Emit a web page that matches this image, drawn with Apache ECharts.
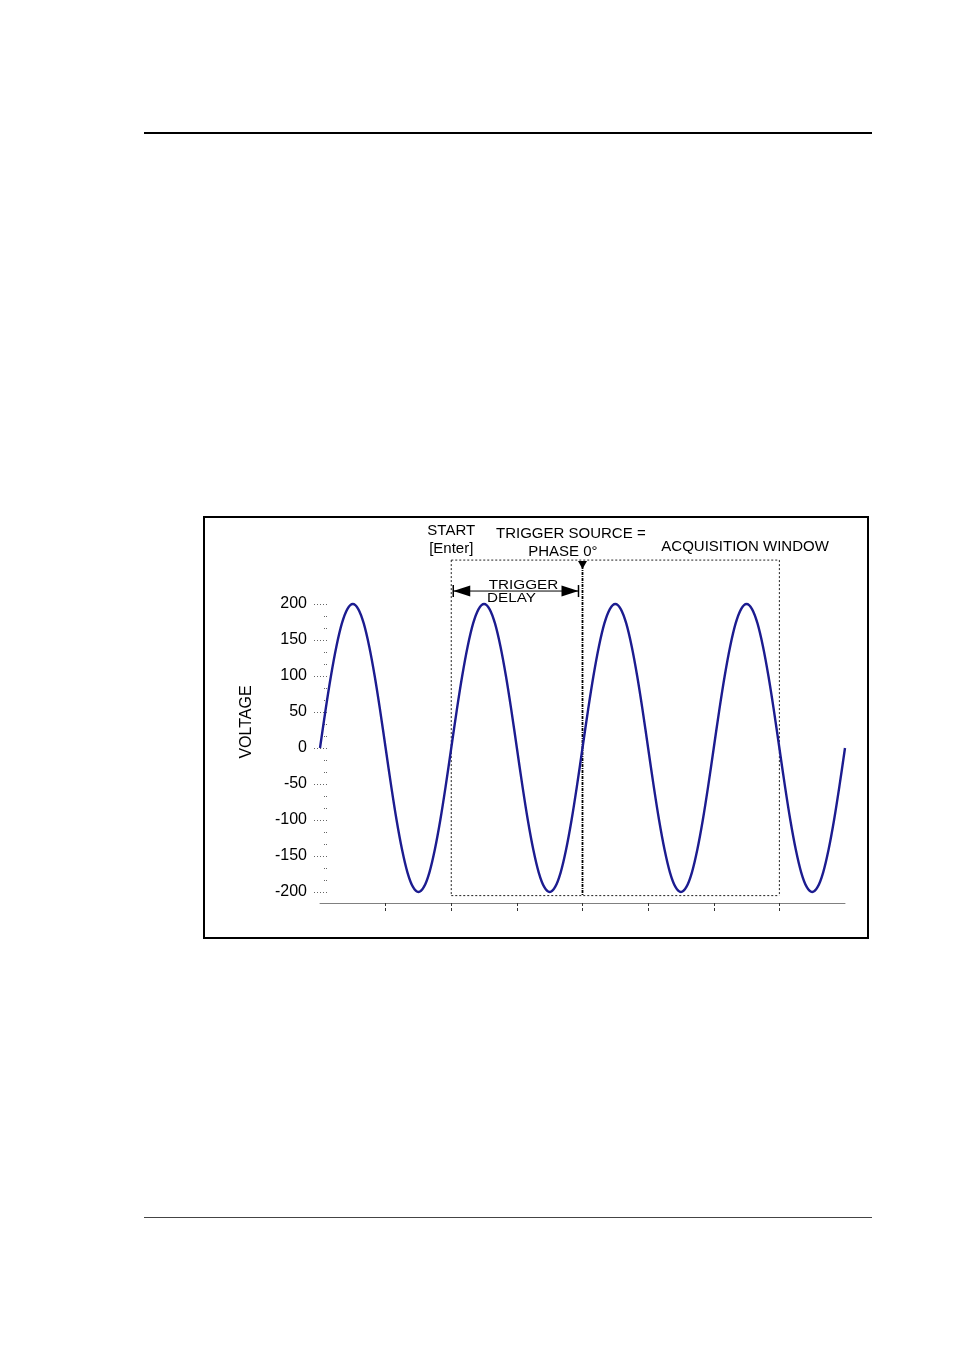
<!DOCTYPE html>
<html>
<head>
<meta charset="utf-8">
<script src="https://cdn.jsdelivr.net/npm/echarts@6/dist/echarts.min.js"></script>
<style>
html,body{margin:0;padding:0;background:#fff;}
#c{width:954px;height:1350px;}
</style>
</head>
<body>
<div id="c"></div>
<script>
// ---- data ----
const stepDeg = 15;
const voltage = [
  0,52,100,141,173,193,200,193,173,141,100,52,0,-52,-100,-141,-173,-193,-200,-193,-173,-141,-100,-52,
  0,52,100,141,173,193,200,193,173,141,100,52,0,-52,-100,-141,-173,-193,-200,-193,-173,-141,-100,-52,
  0,52,100,141,173,193,200,193,173,141,100,52,0,-52,-100,-141,-173,-193,-200,-193,-173,-141,-100,-52,
  0,52,100,141,173,193,200,193,173,141,100,52,0,-52,-100,-141,-173,-193,-200,-193,-173,-141,-100,-52,
  0
];
const yTicks = [-200,-150,-100,-50,0,50,100,150,200];
const xTicks = [180,360,540,720,900,1080,1260];
const startDeg = 360;     // START [Enter]
const triggerDeg = 720;   // trigger source phase 0°
const endDeg = 1260;      // end of acquisition window
const boxTop = 261, boxBottom = -205;
const yAxisName = 'VOLTAGE';

const points = voltage.map((v, i) => [i * stepDeg, v]);
const FONT = '"Liberation Sans", Arial, sans-serif';

const chart = echarts.init(document.getElementById('c'), null, {renderer: 'canvas'});
chart.setOption({
  animation: false,
  backgroundColor: '#fff',
  grid: {left: 320, right: 109, top: 604, bottom: 458, containLabel: false},
  xAxis: {
    type: 'value', min: 0, max: 1440, interval: 180, offset: 11,
    axisLine: {show: true, onZero: false, lineStyle: {color: '#808080', width: 1}},
    axisTick: {show: true, customValues: xTicks, length: 9, inside: false,
      lineStyle: {color: '#333', type: [3, 2], width: 1}},
    axisLabel: {show: false},
    splitLine: {show: false}
  },
  yAxis: {
    type: 'value', min: -200, max: 200, interval: 50, offset: -7,
    axisLine: {show: false},
    axisTick: {show: true, length: 13, lineStyle: {color: '#666', type: [1, 2], width: 1}},
    minorTick: {show: true, splitNumber: 3, length: 4, lineStyle: {color: '#666', type: [1, 1]}},
    axisLabel: {show: true, customValues: yTicks, margin: 20, fontFamily: FONT, fontSize: 16, color: '#000',
      padding: [3, 0, 0, 0]},
    splitLine: {show: false}
  },
  series: [{
    type: 'line', data: points, smooth: 0.35, showSymbol: false,
    lineStyle: {color: '#1c1c90', width: 2.4}, clip: false
  }]
});

function P(x, y) { return chart.convertToPixel({xAxisIndex: 0, yAxisIndex: 0}, [x, y]); }
const [xs, yTop] = P(startDeg, boxTop);
const [xe, yBot] = P(endDeg, boxBottom);
const [xt] = P(triggerDeg, 0);
const yArrow = P(0, 218)[1];
const dotted = {stroke: '#222', lineWidth: 1, lineDash: [2, 2]};
function txt(x, y, s, size, align, sx) {
  return {type: 'text', x: x, y: y, scaleX: sx || 1, style: {text: s, font: (size || 15) + 'px ' + FONT,
    fill: '#000', textAlign: align || 'center', textVerticalAlign: 'middle'}, z: 10};
}
const g = [
  // page rules
  {type: 'line', shape: {x1: 144, y1: 133, x2: 872, y2: 133}, style: {stroke: '#000', lineWidth: 2}},
  {type: 'line', shape: {x1: 144, y1: 1217.5, x2: 872, y2: 1217.5}, style: {stroke: '#444', lineWidth: 1}},
  // frame
  {type: 'rect', shape: {x: 204, y: 517, width: 664, height: 421}, style: {fill: 'none', stroke: '#000', lineWidth: 2}},
  // acquisition window dotted box
  {type: 'line', shape: {x1: xs, y1: yTop, x2: xe, y2: yTop}, style: dotted},
  {type: 'line', shape: {x1: xs, y1: yTop, x2: xs, y2: yBot}, style: dotted},
  {type: 'line', shape: {x1: xe, y1: yTop, x2: xe, y2: yBot}, style: dotted},
  {type: 'line', shape: {x1: xs, y1: yBot, x2: xe, y2: yBot}, style: dotted},
  // trigger dash-dot line
  {type: 'line', shape: {x1: xt, y1: yTop + 6, x2: xt, y2: yBot}, style: {stroke: '#000', lineWidth: 1.8, lineDash: [3, 1, 1, 1]}},
  {type: 'polygon', shape: {points: [[xt - 4.5, yTop + 1], [xt + 4.5, yTop + 1], [xt, yTop + 9]]}, style: {fill: '#000'}},
  // trigger delay arrow
  {type: 'line', shape: {x1: xs + 2, y1: yArrow, x2: xt - 4, y2: yArrow}, style: {stroke: '#000', lineWidth: 1}},
  {type: 'polygon', shape: {points: [[xs + 2, yArrow], [xs + 19, yArrow - 5.5], [xs + 19, yArrow + 5.5]]}, style: {fill: '#000'}},
  {type: 'polygon', shape: {points: [[xt - 4, yArrow], [xt - 21, yArrow - 5.5], [xt - 21, yArrow + 5.5]]}, style: {fill: '#000'}},
  {type: 'line', shape: {x1: xs + 2, y1: yArrow - 6, x2: xs + 2, y2: yArrow + 6}, style: {stroke: '#000', lineWidth: 1.5}},
  {type: 'line', shape: {x1: xt - 4, y1: yArrow - 6, x2: xt - 4, y2: yArrow + 6}, style: {stroke: '#000', lineWidth: 1.5}},
  // y axis name
  {type: 'text', x: 247, y: 722, rotation: Math.PI / 2, style: {text: yAxisName, font: '16px ' + FONT,
    fill: '#000', textAlign: 'center', textVerticalAlign: 'middle'}}
];
function addText(deg, val, s, size, align, sx) { const p = P(deg, val); g.push(txt(p[0], p[1], s, size, align, sx)); }
addText(startDeg, 302, 'START');
addText(startDeg, 277, '[Enter]');
addText(688, 298, 'TRIGGER SOURCE =');
addText(666, 273, 'PHASE 0°');
addText(1166, 280, 'ACQUISITION WINDOW');
addText(558, 226, 'TRIGGER', 12.5, 'center', 1.22);
addText(458, 208, 'DELAY', 12.5, 'left', 1.22);
chart.setOption({graphic: g});
</script>
</body>
</html>
